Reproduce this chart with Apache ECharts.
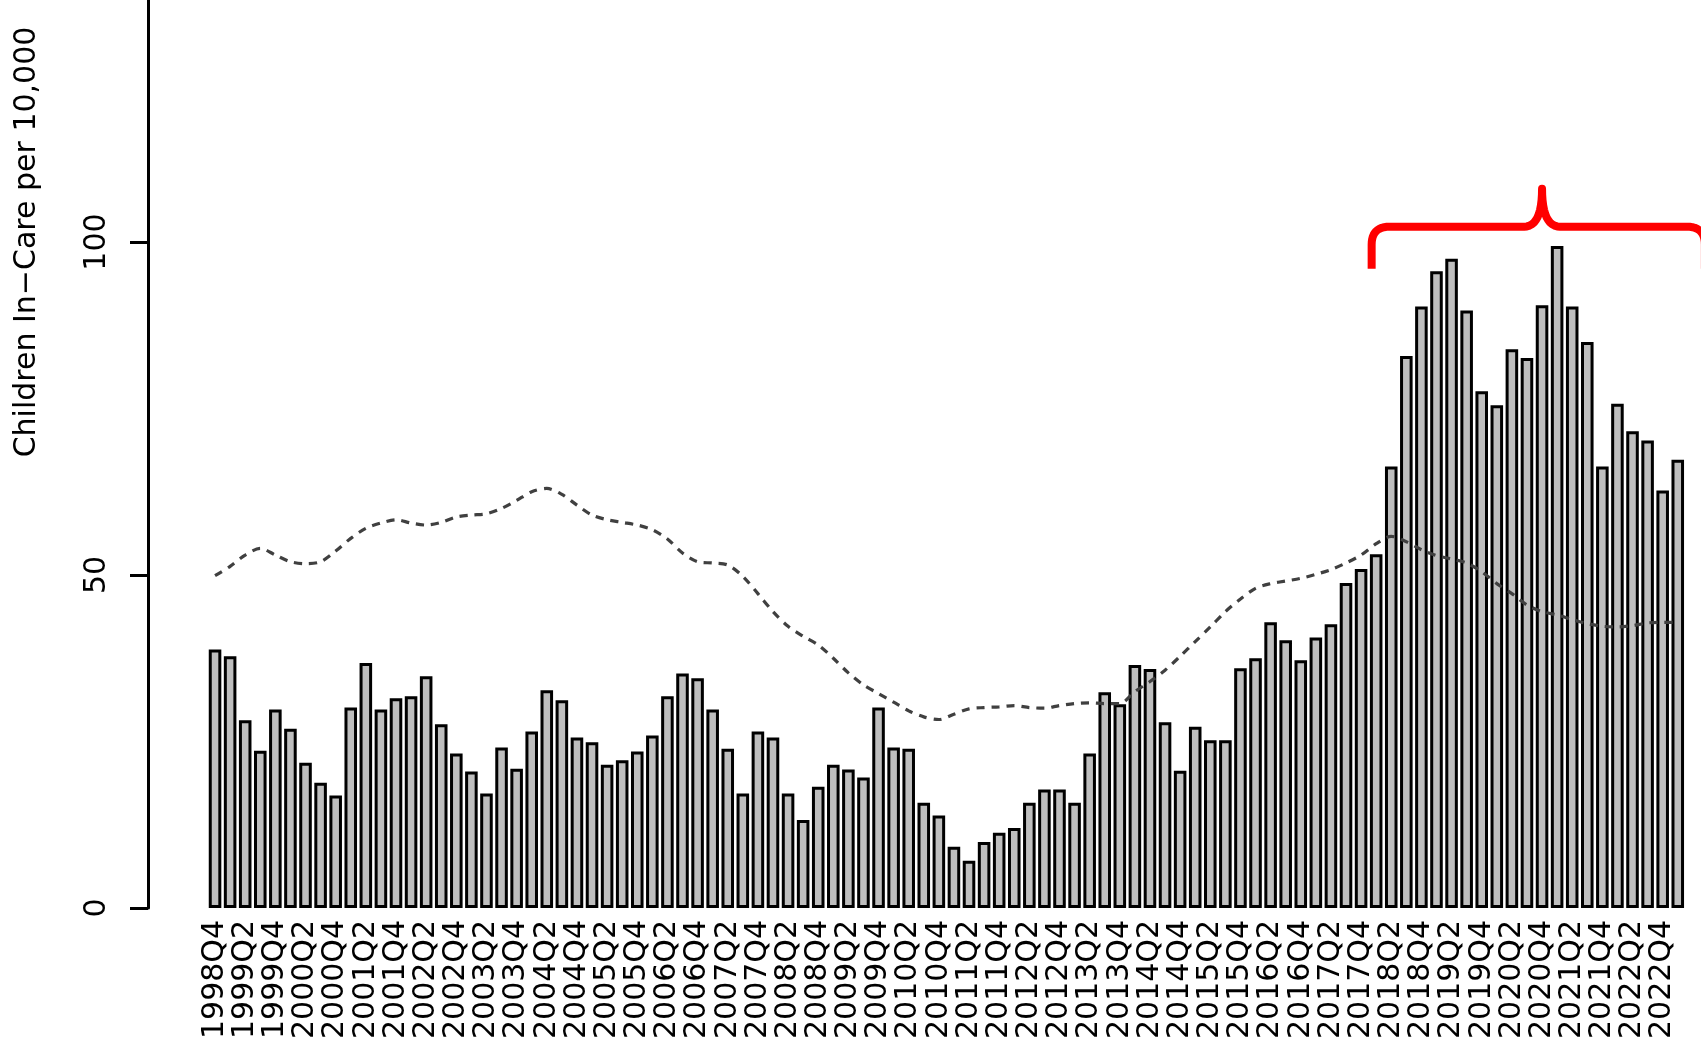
<!DOCTYPE html>
<html>
<head>
<meta charset="utf-8">
<script src="https://cdn.jsdelivr.net/npm/echarts@6/dist/echarts.min.js"></script>
<style>
  html, body { margin: 0; padding: 0; background: #fff; }
  #chart { width: 1701px; height: 1048px; }
</style>
</head>
<body>
<div id="chart"></div>
<script>
  // quarters shown on the x axis
  const quarters = [
    '1998Q4',
    '1999Q1', '1999Q2', '1999Q3', '1999Q4',
    '2000Q1', '2000Q2', '2000Q3', '2000Q4',
    '2001Q1', '2001Q2', '2001Q3', '2001Q4',
    '2002Q1', '2002Q2', '2002Q3', '2002Q4',
    '2003Q1', '2003Q2', '2003Q3', '2003Q4',
    '2004Q1', '2004Q2', '2004Q3', '2004Q4',
    '2005Q1', '2005Q2', '2005Q3', '2005Q4',
    '2006Q1', '2006Q2', '2006Q3', '2006Q4',
    '2007Q1', '2007Q2', '2007Q3', '2007Q4',
    '2008Q1', '2008Q2', '2008Q3', '2008Q4',
    '2009Q1', '2009Q2', '2009Q3', '2009Q4',
    '2010Q1', '2010Q2', '2010Q3', '2010Q4',
    '2011Q1', '2011Q2', '2011Q3', '2011Q4',
    '2012Q1', '2012Q2', '2012Q3', '2012Q4',
    '2013Q1', '2013Q2', '2013Q3', '2013Q4',
    '2014Q1', '2014Q2', '2014Q3', '2014Q4',
    '2015Q1', '2015Q2', '2015Q3', '2015Q4',
    '2016Q1', '2016Q2', '2016Q3', '2016Q4',
    '2017Q1', '2017Q2', '2017Q3', '2017Q4',
    '2018Q1', '2018Q2', '2018Q3', '2018Q4',
    '2019Q1', '2019Q2', '2019Q3', '2019Q4',
    '2020Q1', '2020Q2', '2020Q3', '2020Q4',
    '2021Q1', '2021Q2', '2021Q3', '2021Q4',
    '2022Q1', '2022Q2', '2022Q3', '2022Q4',
    '2023Q1'
  ]

  // children in care per 10,000 (bars)
  const inCare = [
    38.8,
    37.8, 28.2, 23.6, 29.8,
    26.9, 21.8, 18.8, 16.9,
    30.1, 36.8, 29.8, 31.5,
    31.8, 34.8, 27.6, 23.2,
    20.5, 17.2, 24.1, 20.9,
    26.5, 32.7, 31.2, 25.6,
    24.9, 21.5, 22.2, 23.5,
    25.9, 31.8, 35.2, 34.5,
    29.8, 23.9, 17.2, 26.5,
    25.6, 17.2, 13.2, 18.2,
    21.5, 20.8, 19.6, 30.1,
    24.1, 23.9, 15.8, 13.9,
    9.2, 7.1, 9.9, 11.3,
    12.0, 15.8, 17.8, 17.8,
    15.8, 23.2, 32.4, 30.6,
    36.5, 35.9, 27.9, 20.6,
    27.2, 25.2, 25.2, 36.0,
    37.5, 42.9, 40.2, 37.2,
    40.6, 42.6, 48.8, 50.9,
    53.1, 66.3, 82.9, 90.3,
    95.6, 97.5, 89.7, 77.6,
    75.5, 83.9, 82.6, 90.5,
    99.4, 90.3, 85.0, 66.3,
    75.7, 71.6, 70.2, 62.7,
    67.3
  ]

  // dashed reference line
  const trend = [
    49.9,
    51.3, 53.0, 54.0, 53.0,
    52.0, 51.7, 52.0, 53.6,
    55.5, 57.0, 57.8, 58.3,
    57.8, 57.5, 57.9, 58.7,
    59.0, 59.2, 60.0, 61.2,
    62.5, 63.0, 62.1, 60.5,
    59.0, 58.3, 57.9, 57.5,
    56.8, 55.4, 53.3, 52.0,
    51.8, 51.5, 49.8, 47.2,
    44.5, 42.3, 40.8, 39.5,
    37.5, 35.3, 33.5, 32.2,
    30.9, 29.6, 28.7, 28.3,
    29.1, 29.9, 30.1, 30.2,
    30.4, 30.1, 30.0, 30.4,
    30.7, 30.8, 30.7, 30.7,
    32.5, 34.0, 35.7, 37.8,
    40.0, 42.2, 44.5, 46.4,
    48.0, 48.7, 49.1, 49.5,
    50.1, 50.8, 51.8, 53.0,
    54.7, 55.8, 55.0, 53.8,
    52.9, 52.4, 51.8, 50.5,
    48.7, 47.2, 45.5, 44.5,
    44.0, 43.3, 42.7, 42.3,
    42.2, 42.4, 42.8, 42.9,
    42.9
  ]

  // red brace over the recent period (category index / axis value)
  const braceFrom = 76.7
  const bracePeak = 88
  const braceTo = 98.8
  const braceBase = 96
  const braceLine = 102.3
  const braceTip = 108

  const font = 'DejaVu Sans'
  const chart = echarts.init(document.getElementById('chart'))

  chart.setOption({
    animation: false,
    grid: {
      left: 207.5,
      right: 15.7,
      top: -424,
      bottom: 140,
      containLabel: false,
      outerBoundsMode: 'none'
    },
    xAxis: {
      type: 'category',
      data: quarters,
      axisLine: { show: false },
      axisTick: { show: false },
      splitLine: { show: false },
      axisLabel: {
        interval: 1,
        rotate: 90,
        margin: 12,
        fontFamily: font,
        fontSize: 30,
        color: '#000'
      }
    },
    yAxis: {
      type: 'value',
      min: 0,
      max: 200,
      interval: 50,
      offset: 59.5,
      name: 'Children In\u2212Care per 10,000',
      nameLocation: 'middle',
      nameRotate: 90,
      nameGap: 106,
      nameTextStyle: { fontFamily: font, fontSize: 30, color: '#000' },
      splitLine: { show: false },
      axisLine: { show: true, lineStyle: { color: '#000', width: 3 } },
      axisTick: { show: true, length: 18, lineStyle: { color: '#000', width: 3 } },
      axisLabel: {
        rotate: 90,
        margin: 36,
        fontFamily: font,
        fontSize: 30,
        color: '#000'
      }
    },
    series: [
      {
        type: 'bar',
        data: inCare,
        barCategoryGap: '16.7%',
        itemStyle: { color: '#bebebe', borderColor: '#000', borderWidth: 3 }
      },
      {
        type: 'line',
        data: trend,
        smooth: 0.3,
        symbol: 'none',
        z: 5,
        lineStyle: { color: '#404040', width: 3.2, type: [8, 7] }
      }
    ]
  })

  // brace drawn from axis positions
  const px = (i, v) => chart.convertToPixel({ gridIndex: 0 }, [i, v])
  const x0 = px(0, 0)[0]
  const band = px(1, 0)[0] - x0
  const bx = i => x0 + i * band
  const by = v => px(0, v)[1]

  function quad (p0, p1, p2, n) {
    const pts = []
    for (let k = 0; k <= n; k++) {
      const t = k / n
      const a = (1 - t) * (1 - t), b = 2 * (1 - t) * t, c = t * t
      pts.push([a * p0[0] + b * p1[0] + c * p2[0], a * p0[1] + b * p1[1] + c * p2[1]])
    }
    return pts
  }

  const r = 18
  const L = bx(braceFrom), M = bx(bracePeak), R = bx(braceTo)
  const yb = by(braceBase), yl = by(braceLine), yt = by(braceTip)
  let pts = [[L, yb]]
  pts = pts.concat(quad([L, yl + r], [L, yl], [L + r, yl], 12))
  pts = pts.concat(quad([M - r, yl], [M, yl], [M, yt], 12))
  pts = pts.concat(quad([M, yt], [M, yl], [M + r, yl], 12))
  pts = pts.concat(quad([R - r, yl], [R, yl], [R, yl + r], 12))
  pts.push([R, yb])

  chart.setOption({
    graphic: [{
      type: 'polyline',
      z: 100,
      shape: { points: pts },
      style: { stroke: '#ff0000', lineWidth: 8, fill: null, lineJoin: 'round' }
    }]
  })
</script>
</body>
</html>
